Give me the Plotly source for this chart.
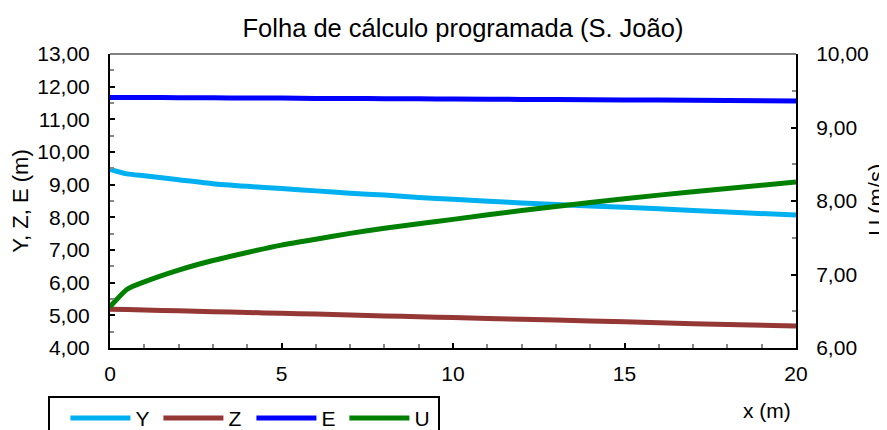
import plotly.graph_objects as go

x = [0, 0.5, 1, 2, 3, 4, 5, 6, 7, 8, 9, 10, 12, 14, 16, 18, 20]
Y = [9.47, 9.33, 9.27, 9.15, 9.03, 8.95, 8.88, 8.81, 8.74, 8.68, 8.61, 8.55, 8.44, 8.35, 8.26, 8.16, 8.07]
Z = [5.19, 5.18, 5.16, 5.14, 5.11, 5.09, 5.06, 5.04, 5.01, 4.98, 4.96, 4.93, 4.88, 4.83, 4.77, 4.72, 4.67]
E = [11.67, 11.67, 11.67, 11.66, 11.66, 11.65, 11.65, 11.64, 11.64, 11.63, 11.63, 11.62, 11.61, 11.60, 11.59, 11.58, 11.56]
U = [6.56, 6.80, 6.90, 7.06, 7.19, 7.30, 7.40, 7.48, 7.56, 7.63, 7.69, 7.75, 7.87, 7.98, 8.08, 8.17, 8.26]

FONT = "Liberation Sans, Arial, sans-serif"

fig = go.Figure()
fig.add_trace(go.Scatter(x=x, y=Y, name="Y", mode="lines", line=dict(color="#00B0F0", width=5, shape="spline", smoothing=0.6)))
fig.add_trace(go.Scatter(x=x, y=Z, name="Z", mode="lines", line=dict(color="#953735", width=5, shape="spline", smoothing=0.6)))
fig.add_trace(go.Scatter(x=x, y=E, name="E", mode="lines", line=dict(color="#0000FF", width=5, shape="spline", smoothing=0.6)))
fig.add_trace(go.Scatter(x=x, y=U, name="U", mode="lines", yaxis="y2", line=dict(color="#008000", width=5, shape="spline", smoothing=0.6)))

fig.update_layout(
    width=879, height=422,
    margin=dict(l=102, r=91, t=46, b=82, autoexpand=False),
    paper_bgcolor="white", plot_bgcolor="white",
    separators=",.",
    font=dict(family=FONT, size=21, color="black"),
    title=dict(text="Folha de cálculo programada (S. João)", x=0.5176, xanchor="center", y=0.9526, yanchor="middle",
               font=dict(family=FONT, size=25.5, color="black")),
    xaxis=dict(range=[0, 20], dtick=5, tick0=0, showgrid=False, zeroline=False, automargin=False,
               showline=True, linecolor="black", linewidth=2,
               ticks="inside", ticklen=5, tickcolor="black", tickwidth=1.5,
               minor=dict(dtick=1, ticks="inside", ticklen=4, tickcolor="#888888", tickwidth=1.5),
               tickfont=dict(size=21), ticklabelstandoff=6),
    yaxis=dict(range=[4, 13], dtick=1, tickformat=".2f", showgrid=False, zeroline=False, automargin=False,
               showline=True, linecolor="black", linewidth=2,
               ticks="inside", ticklen=5, tickcolor="black", tickwidth=1.5,
               minor=dict(dtick=0.5, ticks="inside", ticklen=4, tickcolor="#888888", tickwidth=1.5),
               tickfont=dict(size=21), ticklabelstandoff=14,
               title=dict(text="Y, Z, E (m)", font=dict(size=22), standoff=6)),
    yaxis2=dict(range=[6, 10], dtick=1, tickformat=".2f", overlaying="y", side="right", automargin=False,
                showgrid=False, zeroline=False,
                showline=True, linecolor="black", linewidth=2,
                ticks="inside", ticklen=5, tickcolor="black", tickwidth=1.5,
                minor=dict(dtick=0.5, ticks="inside", ticklen=4, tickcolor="#888888", tickwidth=1.5),
                tickfont=dict(size=21), ticklabelstandoff=14),
    showlegend=True,
    legend=dict(orientation="h", x=-0.091, xanchor="left", y=-0.163, yanchor="top",
                bordercolor="black", borderwidth=2, bgcolor="white",
                title=dict(text="\u00a0", side="left", font=dict(size=21)),
                font=dict(size=21), itemwidth=60, entrywidth=18, entrywidthmode="pixels",
                tracegroupgap=0),
    shapes=[dict(type="line", xref="paper", yref="paper", x0=0, x1=1, y0=1, y1=1,
                 line=dict(color="#808080", width=2))],
    annotations=[
        dict(text="x (m)", xref="paper", yref="paper", x=0.996, xanchor="right",
             y=-0.211, yanchor="middle", showarrow=False, font=dict(size=21)),
        dict(text="U (m/s)", xref="paper", yref="paper", x=1.117, xanchor="center",
             y=0.505, yanchor="middle", textangle=-90, showarrow=False, font=dict(size=22)),
    ],
)

fig.write_html("out.html")
